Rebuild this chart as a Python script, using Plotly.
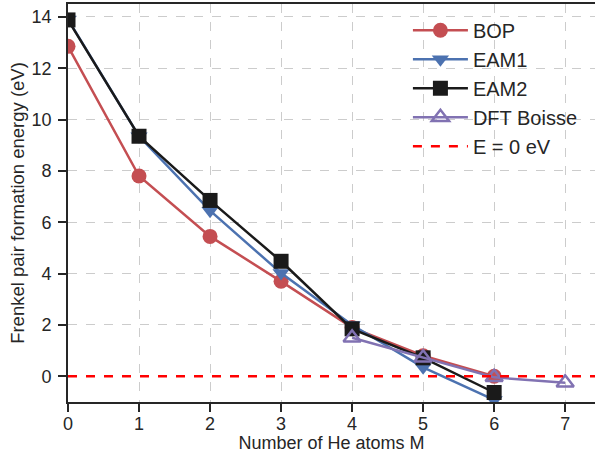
import plotly.graph_objects as go

# Data
x_bop = [0, 1, 2, 3, 4, 5, 6]
y_bop = [12.85, 7.8, 5.45, 3.7, 1.9, 0.8, 0.0]
x_eam1 = [0, 1, 2, 3, 4, 5, 6]
y_eam1 = [13.9, 9.35, 6.45, 4.02, 2.0, 0.35, -0.92]
x_eam2 = [0, 1, 2, 3, 4, 5, 6]
y_eam2 = [13.88, 9.35, 6.85, 4.48, 1.85, 0.72, -0.63]
x_dft = [4, 5, 6, 7]
y_dft = [1.5, 0.72, -0.04, -0.25]
x_limits = [0, 7.42]
y_limits = [-1, 14.5]
zero_level = [0, 0]
x_ticks = [0, 1, 2, 3, 4, 5, 6, 7]
y_ticks = [0, 2, 4, 6, 8, 10, 12, 14]

FONT = "Liberation Sans, Arial, sans-serif"
TXT = "#262626"

fig = go.Figure()
fig.add_trace(go.Scatter(x=x_bop, y=y_bop, mode="lines+markers", name="BOP",
                         line=dict(color="#C44E52", width=2.5),
                         marker=dict(symbol="circle", size=15, color="#C44E52")))
fig.add_trace(go.Scatter(x=x_eam1, y=y_eam1, mode="lines+markers", name="EAM1",
                         line=dict(color="#4C72B0", width=2.5),
                         marker=dict(symbol="triangle-down", size=15, color="#4C72B0")))
fig.add_trace(go.Scatter(x=x_eam2, y=y_eam2, mode="lines+markers", name="EAM2",
                         line=dict(color="#1a1a1a", width=2.5),
                         marker=dict(symbol="square", size=15, color="#1a1a1a")))
fig.add_trace(go.Scatter(x=x_dft, y=y_dft, mode="lines+markers", name="DFT Boisse",
                         line=dict(color="#8172B2", width=2.5),
                         marker=dict(symbol="triangle-up-open", size=15, color="#8172B2",
                                     line=dict(width=2.5, color="#8172B2"))))
fig.add_trace(go.Scatter(x=x_limits, y=zero_level, mode="lines", name="E = 0 eV",
                         line=dict(color="#ff0000", width=2.5, dash="dash")))

axis_common = dict(
    showline=True, linecolor=TXT, linewidth=1.8,
    ticks="outside", ticklen=8, tickwidth=1.5, tickcolor=TXT,
    showgrid=True, gridcolor="#cccccc", gridwidth=1, griddash="dash",
    zeroline=False, tickfont=dict(size=18, color=TXT, family=FONT),
    automargin=False,
)

fig.update_layout(
    width=595, height=457,
    margin=dict(l=68, r=0, t=4, b=55),
    paper_bgcolor="white", plot_bgcolor="white",
    font=dict(family=FONT, color=TXT),
    xaxis=dict(range=x_limits, tickvals=x_ticks, mirror=True, ticklabelstandoff=-4,
               title=dict(text="Number of He atoms M", font=dict(size=18, color=TXT), standoff=4),
               **axis_common),
    yaxis=dict(range=y_limits, tickvals=y_ticks, mirror=False, ticklabelstandoff=3,
               title=dict(text="Frenkel pair formation energy (eV)", font=dict(size=18.5, color=TXT), standoff=2),
               **axis_common),
    legend=dict(x=0.645, y=0.983, xanchor="left", yanchor="top",
                bgcolor="rgba(255,255,255,0)", font=dict(size=20, color=TXT, family=FONT),
                tracegroupgap=0, itemwidth=55),
    showlegend=True,
)

fig.write_html("out.html", config={"displayModeBar": False},
               post_script="document.body.style.margin='0';document.body.style.padding='0';")
